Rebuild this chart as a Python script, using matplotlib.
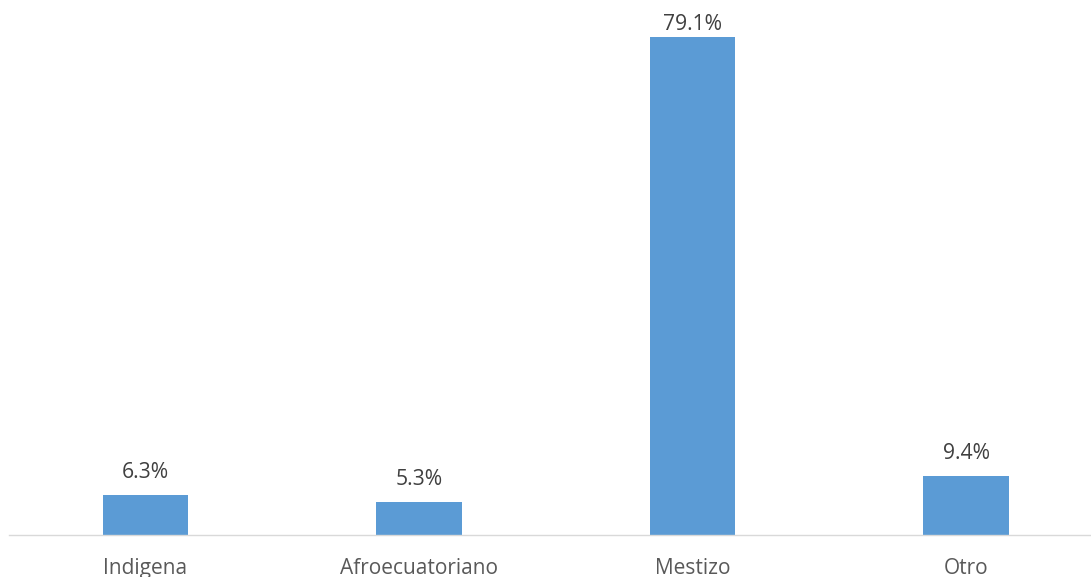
import matplotlib
matplotlib.use("Agg")
import matplotlib.pyplot as plt
import numpy as np

# data
categories = ["Indigena", "Afroecuatoriano", "Mestizo", "Otro"]
values = [6.3, 5.3, 79.1, 9.4]
labels = ["6.3%", "5.3%", "79.1%", "9.4%"]

plt.rcParams['font.family'] = ['Open Sans', 'DejaVu Sans']

fig = plt.figure(figsize=(10.91, 5.77), dpi=100)
ax = fig.add_axes([0.008, 0.0728, 1.003, 0.9272])

x = np.arange(len(categories))
bars = ax.bar(x, values, width=0.313, color="#5B9BD5", zorder=2)

ax.set_xlim(-0.5, len(categories) - 0.5)
ax.set_ylim(0, 85)

# value labels above bars, kept inside the plot area like Excel does
for rect, lab in zip(bars, labels):
    h = rect.get_height()
    ty = min(h + 2.7, 80.2)
    ax.text(rect.get_x() + rect.get_width() / 2, ty, lab,
            ha='center', va='baseline', fontsize=15.2, color="#404040")

ax.set_xticks(x)
ax.set_xticklabels(categories, fontsize=15, color="#595959")
ax.tick_params(axis='x', length=0, pad=16.5)
ax.set_yticks([])

for side in ["top", "right", "left"]:
    ax.spines[side].set_visible(False)
ax.spines["bottom"].set_color("#D9D9D9")
ax.spines["bottom"].set_linewidth(1.0)

fig.savefig("out.png", dpi=100)
